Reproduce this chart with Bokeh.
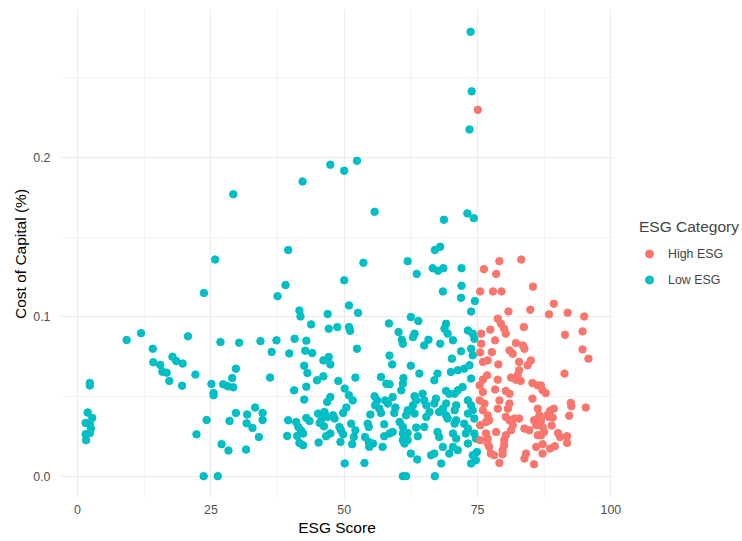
from bokeh.plotting import figure
from bokeh.models import Range1d, FixedTicker, Legend, LegendItem, NumeralTickFormatter
from bokeh.embed import file_html
from bokeh.resources import INLINE

# ---- data ----
low_x = [
    73.7, 73.9, 73.5, 47.4, 50.0, 52.4, 42.2, 29.2, 55.7, 68.7, 73.1, 74.3, 39.5, 67.0, 68.0,
    25.8, 61.9, 53.6, 63.6, 66.6, 67.6, 68.6, 72.0, 50.0, 39.0, 72.0, 68.5, 23.7, 37.5, 71.9, 74.5,
    9.2, 11.9, 14.1, 14.2, 15.5, 15.9, 16.7, 17.2, 17.8, 18.5, 19.6, 2.3, 2.3, 1.9, 2.75, 1.5,
    2.3, 2.5, 1.5, 2.3, 1.6,
    20.7, 26.8, 30.3, 34.3, 37.3, 36.4, 19.7, 29.7, 22.1, 29.0, 36.1, 25.1, 27.3, 28.2, 29.2,
    25.5, 25.5, 29.7, 31.8, 33.3, 34.7, 34.7, 28.5, 24.2, 31.7, 32.8, 34.0, 22.3, 27.0, 28.3,
    31.6, 23.65, 26.3,
    50.9, 52.6, 41.6, 41.8, 46.9, 43.8, 47.1, 48.7, 50.9, 51.1, 40.7, 42.9, 39.7, 42.7, 44.0,
    52.4, 46.1, 47.1, 47.4, 42.5, 43.1, 44.9, 46.1, 48.9, 52.1, 40.6, 42.9, 50.1, 50.9, 51.6,
    47.4, 46.8, 42.5, 50.4, 49.8, 39.5, 41.0, 41.4, 42.9, 43.5, 45.1, 45.8, 46.3, 45.4, 46.2,
    46.9, 47.9, 48.2, 41.9, 42.3, 39.3, 41.2, 46.6, 47.4, 49.1, 49.4, 49.8, 51.3, 52.1, 51.8,
    41.6, 42.3, 45.2, 49.3, 51.5, 50.1,
    58.4, 62.5, 63.9, 60.2, 60.8, 61.0, 63.2, 62.9, 58.5, 59.0, 62.5, 64.1, 56.9, 61.1, 61.0,
    60.7, 57.9, 58.5, 55.7, 56.2, 55.8, 56.6, 57.7, 58.2, 59.1, 63.2, 63.5, 62.9, 62.5, 63.2,
    59.6, 59.4, 61.9, 61.6, 56.9, 54.9, 54.4, 54.6, 57.5, 60.4, 61.0, 63.5, 63.8, 59.1, 58.5,
    57.5, 61.0, 61.9, 53.9, 54.6, 54.7, 55.4, 61.0, 61.3, 61.9, 57.2, 62.5, 63.7, 53.8, 61.0,
    61.6,
    73.8, 69.1, 68.8, 69.4, 70.4, 73.2, 74.1, 74.4, 65.8, 65.0, 68.0, 71.9, 73.8, 74.1, 70.2,
    73.5, 72.5, 71.3, 70.0, 67.5, 66.9, 73.8, 72.2, 71.3, 70.7, 69.1, 69.7, 64.7, 65.0, 65.4,
    67.2, 66.9, 69.1, 68.5, 67.8, 71.0, 70.7, 73.2, 73.8, 74.1, 73.2, 74.4, 66.0, 65.4, 69.1,
    69.4, 71.0, 70.7, 72.5, 73.2, 72.8, 65.0, 67.5, 67.8, 70.4, 71.0, 74.4, 74.7, 73.2, 68.5,
    70.4, 69.7, 71.3, 66.9, 66.3, 74.1, 74.7, 73.8, 68.2, 67.0, 74.9,
]
low_y = [
    0.279, 0.2416, 0.2177, 0.1956, 0.1918, 0.198, 0.185, 0.177, 0.166, 0.161, 0.165, 0.162, 0.142, 0.142, 0.144,
    0.136, 0.135, 0.134, 0.127, 0.1306, 0.129, 0.1306, 0.1306, 0.123, 0.120, 0.1196, 0.116, 0.115, 0.113, 0.112, 0.110,
    0.0855, 0.0898, 0.080, 0.0715, 0.0698, 0.0656, 0.065, 0.0598, 0.075, 0.0723, 0.0568, 0.0585, 0.057, 0.040, 0.0366, 0.0334,
    0.033, 0.0299, 0.0263, 0.0271, 0.0226,
    0.0878, 0.0842, 0.0838, 0.0848, 0.0853, 0.078, 0.0707, 0.0675, 0.0638, 0.0616, 0.0619, 0.0579, 0.0577, 0.0564, 0.0558,
    0.0522, 0.0508, 0.0397, 0.0387, 0.0431, 0.0397, 0.0353, 0.0347, 0.0353, 0.0332, 0.0303, 0.0246, 0.0263, 0.0201, 0.0161,
    0.0167, 0.0, 0.0,
    0.1072, 0.1026, 0.104, 0.1003, 0.1018, 0.0953, 0.0926, 0.0936, 0.0936, 0.0913, 0.0863, 0.0851, 0.0771, 0.0788, 0.0773,
    0.080, 0.0727, 0.0748, 0.0702, 0.0694, 0.0648, 0.0602, 0.0627, 0.0598, 0.0619, 0.0539, 0.0562, 0.055, 0.0508, 0.0476,
    0.0497, 0.0466, 0.0481, 0.0431, 0.0397, 0.0351, 0.034, 0.0309, 0.0366, 0.0347, 0.0393, 0.0362, 0.0403, 0.0334, 0.0313,
    0.0372, 0.0382, 0.0362, 0.0288, 0.0268, 0.0253, 0.0253, 0.0251, 0.0268, 0.0309, 0.0288, 0.0263, 0.033, 0.0288, 0.0246,
    0.0209, 0.0194, 0.0211, 0.0215, 0.0201, 0.008,
    0.0959, 0.0999, 0.0974, 0.0905, 0.0857, 0.0832, 0.0895, 0.0873, 0.0757, 0.0702, 0.0694, 0.0644, 0.0623, 0.0616, 0.0581,
    0.0539, 0.0581, 0.0577, 0.0502, 0.0476, 0.0445, 0.0424, 0.0476, 0.0456, 0.0497, 0.0502, 0.0476, 0.0445, 0.0414, 0.0393,
    0.0431, 0.0397, 0.0414, 0.0382, 0.0397, 0.0387, 0.033, 0.0309, 0.0326, 0.034, 0.0309, 0.0305, 0.0251, 0.0278, 0.0268,
    0.0251, 0.0268, 0.0271, 0.0246, 0.0215, 0.0184, 0.0205, 0.0226, 0.0205, 0.0226, 0.0184, 0.0142, 0.0105, 0.0083, 0.0,
    0.0,
    0.1034, 0.0957, 0.0926, 0.0895, 0.0853, 0.0915, 0.0895, 0.0863, 0.0857, 0.0821, 0.0832, 0.0784, 0.080, 0.0759, 0.0738,
    0.0696, 0.0675, 0.0665, 0.0654, 0.0644, 0.0602, 0.0613, 0.056, 0.0539, 0.0518, 0.0535, 0.0518, 0.0518, 0.0476, 0.0445,
    0.0487, 0.0456, 0.0456, 0.0424, 0.0403, 0.0445, 0.0414, 0.0476, 0.0445, 0.0414, 0.0393, 0.0362, 0.0403, 0.0372, 0.0382,
    0.0362, 0.0351, 0.033, 0.033, 0.0299, 0.0268, 0.0309, 0.0278, 0.0246, 0.0268, 0.0236, 0.0268, 0.0236, 0.0205, 0.0184,
    0.0184, 0.0142, 0.0163, 0.0142, 0.0132, 0.0132, 0.010, 0.008, 0.008, 0.0, 0.0152,
]
high_x = [
    75.05, 76.2, 79.1, 83.2, 78.5, 75.5, 77.9, 79.5, 85.4,
    80.8, 84.9, 78.8, 79.4, 80.0, 80.3, 77.4, 83.7, 75.7, 75.7, 78.3, 82.2, 83.5, 83.8, 81.0,
    81.6, 77.7, 85.0, 84.4, 82.8, 76.9, 76.0, 78.9, 82.8, 82.5, 76.8, 76.0, 78.8, 81.3, 82.2,
    83.1, 85.3, 86.3, 78.3, 80.3, 81.0, 76.0, 85.3, 79.1, 78.8, 81.0, 80.7, 76.3, 76.0, 86.3,
    86.6, 76.9, 77.2, 76.6, 80.3, 81.0, 81.9, 81.6, 81.3, 82.8, 85.6, 86.0, 83.8, 84.7, 78.5,
    76.6, 76.9, 80.3, 80.0, 86.3, 76.9, 77.2, 80.0, 79.7, 86.0, 77.5, 78.1, 79.7, 84.1, 83.8,
    79.1, 85.6,
    89.3, 88.4, 91.9, 95.0, 91.4, 94.7, 94.7, 95.8, 91.3, 86.9, 87.8, 87.2, 92.5, 92.6, 95.3,
    89.3, 88.6, 88.1, 89.1, 88.4, 92.2, 86.9, 87.2, 87.5, 86.9, 88.9, 90.1, 90.5, 91.8, 91.8,
    87.2, 87.2, 89.5, 88.6,
    75.5, 75.5, 75.5, 75.4, 75.4,
]
high_y = [
    0.230, 0.130, 0.135, 0.136, 0.127, 0.116, 0.116, 0.116, 0.119,
    0.1034, 0.1045, 0.0989, 0.0957, 0.0926, 0.0895, 0.092, 0.0936, 0.0895, 0.0832, 0.0853, 0.0836, 0.0821, 0.080, 0.079,
    0.0769, 0.0779, 0.0727, 0.0696, 0.0717, 0.0727, 0.0717, 0.0702, 0.0665, 0.0633, 0.0633, 0.0606, 0.0606, 0.0619, 0.0606,
    0.0598, 0.0585, 0.057, 0.0544, 0.0535, 0.0518, 0.0529, 0.0487, 0.0476, 0.0424, 0.0456, 0.0424, 0.0456, 0.0414, 0.0424,
    0.0382, 0.0382, 0.0351, 0.034, 0.0372, 0.0351, 0.0362, 0.032, 0.0288, 0.0362, 0.0351, 0.032, 0.0299, 0.0288, 0.0278,
    0.0268, 0.0236, 0.0257, 0.0226, 0.0257, 0.0205, 0.0184, 0.0194, 0.0163, 0.0184, 0.0142, 0.0132, 0.0138, 0.0142, 0.0111,
    0.0083, 0.0075,
    0.1083, 0.1016, 0.1026, 0.1003, 0.0888, 0.0909, 0.0796, 0.0738, 0.0644, 0.057, 0.0522, 0.0539, 0.046, 0.0439, 0.0431,
    0.0424, 0.041, 0.0382, 0.0368, 0.0372, 0.038, 0.0351, 0.0309, 0.0278, 0.0257, 0.0318, 0.0271, 0.0246, 0.0251, 0.0209,
    0.0201, 0.0142, 0.0188, 0.0174,
    0.0777, 0.032, 0.0226, 0.0476, 0.057,
]
x_ticks = [0, 25, 50, 75, 100]
x_minor = [12.5, 37.5, 62.5, 87.5]
y_ticks = [0.0, 0.1, 0.2]
y_minor = [0.05, 0.15, 0.25]
categories = ["High ESG", "Low ESG"]
colors = ["#F8766D", "#00BFC4"]

FONT = "Liberation Sans"

p = figure(frame_width=553, frame_height=489, output_backend="svg", toolbar_location=None,
           x_range=Range1d(-3.2, 100.5), y_range=Range1d(-0.014, 0.293),
           min_border_left=60, min_border_right=10, min_border_top=9, min_border_bottom=30)
p.outline_line_color = None
p.background_fill_color = "white"
p.border_fill_color = "white"

p.xaxis.ticker = FixedTicker(ticks=x_ticks, minor_ticks=x_minor)
p.yaxis.ticker = FixedTicker(ticks=y_ticks, minor_ticks=y_minor)
p.yaxis.formatter = NumeralTickFormatter(format="0.0")

for ax in (p.xaxis, p.yaxis):
    ax.axis_line_color = None
    ax.major_tick_line_color = None
    ax.minor_tick_line_color = None
    ax.major_label_text_font = FONT
    ax.major_label_text_font_size = "12.4px"
    ax.major_label_text_color = "#4D4D4D"
    ax.axis_label_text_font = FONT
    ax.axis_label_text_font_size = "15.5px"
    ax.axis_label_text_font_style = "normal"
    ax.axis_label_text_color = "black"

p.xaxis.axis_label = "ESG Score"
p.yaxis.axis_label = "Cost of Capital (%)"
p.xaxis.major_label_standoff = 0
p.xaxis.axis_label_standoff = 2
p.yaxis.major_label_standoff = 4
p.yaxis.axis_label_standoff = 1

for g in (p.xgrid, p.ygrid):
    g.grid_line_color = "#EBEBEB"
    g.grid_line_width = 1.1
    g.minor_grid_line_color = "#EBEBEB"
    g.minor_grid_line_width = 0.6

r_low = p.scatter(low_x, low_y, size=7.5, color=colors[1], line_color=colors[1])
r_high = p.scatter(high_x, high_y, size=7.5, color=colors[0], line_color=colors[0])

legend = Legend(items=[LegendItem(label=categories[0], renderers=[r_high]),
                       LegendItem(label=categories[1], renderers=[r_low])],
                title="ESG Category", location="center_left")
legend.title_text_font = FONT
legend.title_text_font_size = "15.5px"
legend.title_text_font_style = "normal"
legend.title_standoff = 7
legend.label_text_font = FONT
legend.label_text_font_size = "12.4px"
legend.glyph_width = 20
legend.glyph_height = 22
legend.label_height = 22
legend.spacing = 4
legend.label_standoff = 9
legend.padding = 0
legend.margin = 26
legend.border_line_color = None
legend.background_fill_alpha = 0
p.add_layout(legend, "right")

open("out.html", "w").write(file_html(p, INLINE))
